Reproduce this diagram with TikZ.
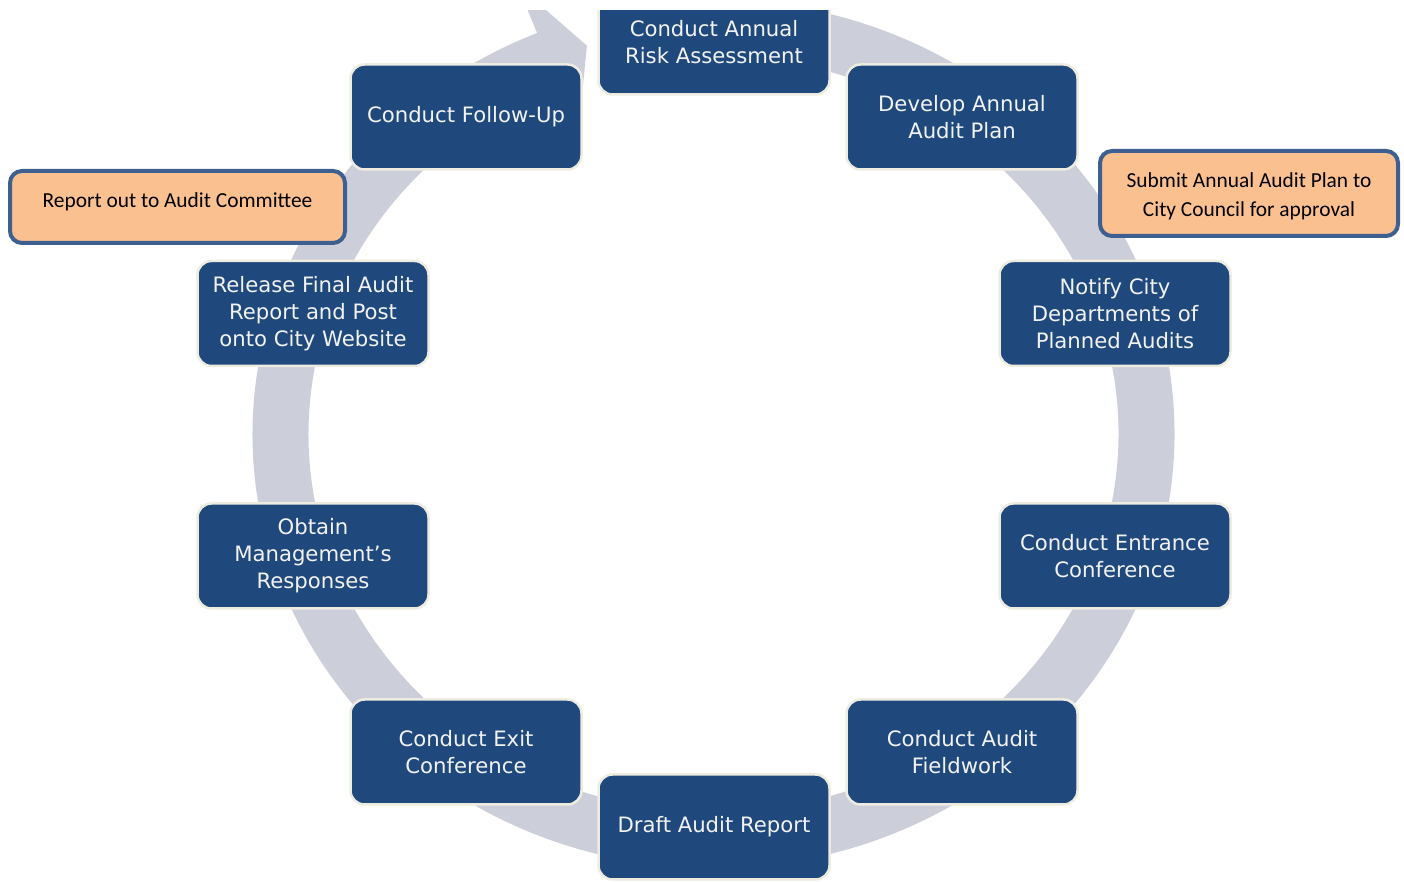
\documentclass[tikz,border=0pt]{standalone}
\usepackage{fontspec}
\newfontfamily\boxfont{DejaVu Sans}
\newfontfamily\notefont{Carlito}
\definecolor{boxblue}{RGB}{31,73,125}
\definecolor{boxedge}{RGB}{238,236,225}
\definecolor{ringgray}{RGB}{204,207,218}
\definecolor{noteorange}{RGB}{250,192,144}
\definecolor{noteedge}{RGB}{62,96,145}
\begin{document}
\begin{tikzpicture}[x=1pt,y=1pt,
  stepbox/.style={draw=boxedge, line width=2.5pt, fill=boxblue, rounded corners=14pt,
    minimum width=231pt, minimum height=105pt, text=white!95!black, align=center, inner sep=0pt,
    font=\boxfont\fontsize{21.2}{27}\selectfont},
  notebox/.style={draw=noteedge, line width=4pt, fill=noteorange, rounded corners=12pt, inner sep=0pt},
  notetext/.style={align=center, inner sep=0pt, text=black, font=\notefont\fontsize{21.4}{29}\selectfont},
  ring/.style={draw=ringgray, line width=56pt, line cap=butt}]
\useasboundingbox (0,0) rectangle (1404,882);
\begin{scope}
\clip (0,0) rectangle (1404,871);
% ring
\draw[ring] ([shift={(713.5,448)}]85:433 and 406) arc[start angle=85, end angle=-248, x radius=433, y radius=406];
\coordinate (hOut) at (517.2,897.0);
\coordinate (hIn) at (578.4,749.2);
\coordinate (hTip) at (586.9,836.3);
\fill[ringgray] (hOut) -- (hTip) -- (hIn) -- cycle;
% top box (cut by the top edge)
\node[stepbox] (s1) at (714,840) {Conduct Annual\\Risk Assessment};
\end{scope}
\node[stepbox] (s2) at (962,765) {Develop Annual\\Audit Plan};
\node[stepbox] (s3) at (1115,568.5) {Notify City\\Departments of\\Planned Audits};
\node[stepbox] (s4) at (1115,326) {Conduct Entrance\\Conference};
\node[stepbox] (s5) at (962,130) {Conduct Audit\\Fieldwork};
\node[stepbox] (s6) at (714,55) {Draft Audit Report};
\node[stepbox] (s7) at (466,130) {Conduct Exit\\Conference};
\node[stepbox] (s8) at (313,326) {Obtain\\Management’s\\Responses};
\node[stepbox] (s9) at (313,568.5) {Release Final Audit\\Report and Post\\onto City Website};
\node[stepbox] (s10) at (466,765) {Conduct Follow-Up};
% notes
\node[notebox, minimum width=335pt, minimum height=72pt] (n1) at (177.5,675) {};
\node[notetext, yshift=5pt] (t1) at (n1.center) {Report out to Audit Committee};
\node[notebox, minimum width=298pt, minimum height=85pt] (n2) at (1249,688.5) {};
\node[notetext, yshift=-3pt] (t2) at (n2.center) {Submit Annual Audit Plan to\\City Council for approval};
\end{tikzpicture}
\end{document}
